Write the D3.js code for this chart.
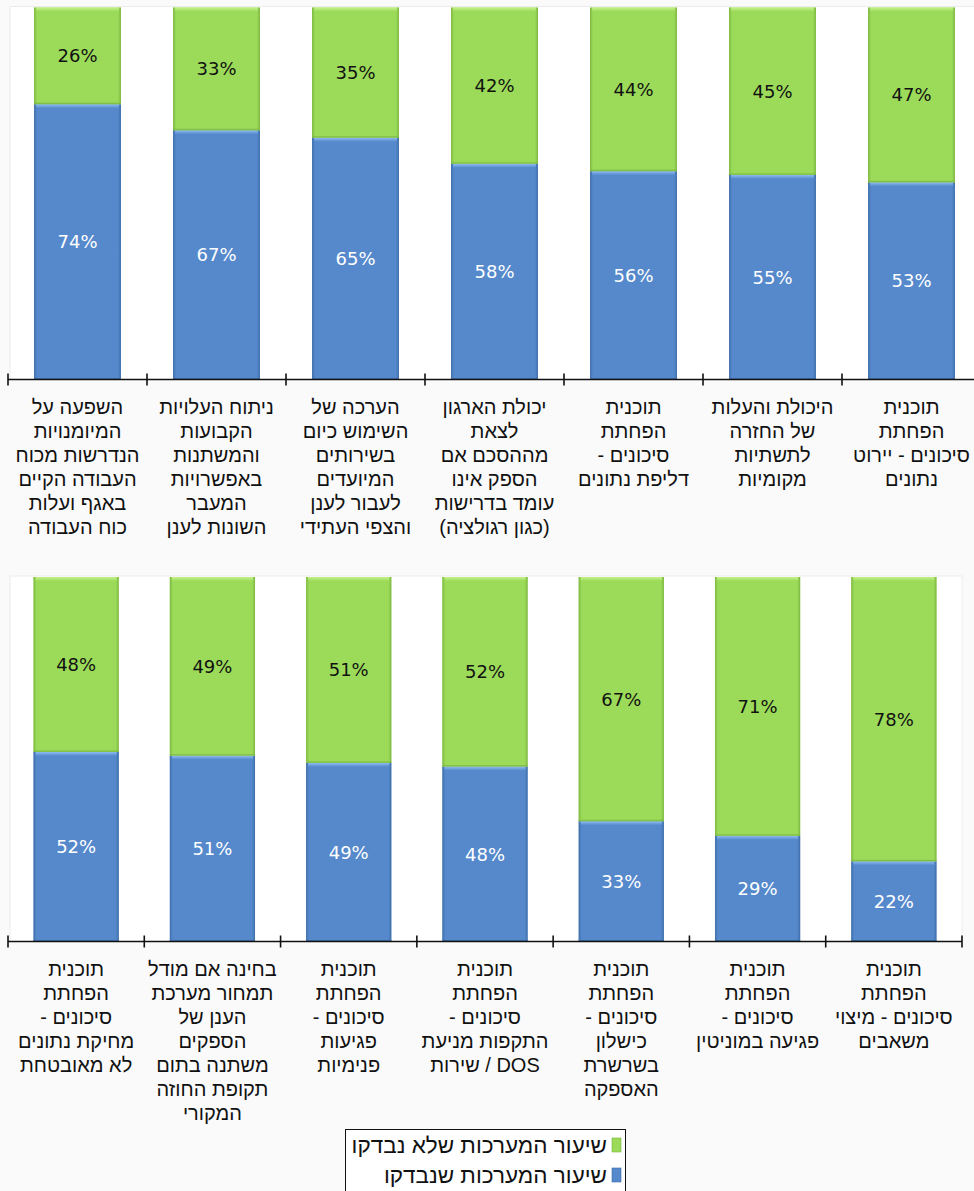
<!DOCTYPE html>
<html><head><meta charset="utf-8">
<script src="https://cdn.jsdelivr.net/npm/d3@7"></script>
<style>
html,body{margin:0;padding:0;background:#fafafa;}
svg{display:block;}
</style></head>
<body>
<svg id="chart" width="974" height="1191"></svg>
<script>
// ---- data (left to right as displayed) ----
const categoriesTop = [
  "השפעה על\nהמיומנויות\nהנדרשות מכוח\nהעבודה הקיים\nבאגף ועלות\nכוח העבודה",
  "ניתוח העלויות\nהקבועות\nוהמשתנות\nבאפשרויות\nהמעבר\nהשונות לענן",
  "הערכה של\nהשימוש כיום\nבשירותים\nהמיועדים\nלעבור לענן\nוהצפי העתידי",
  "יכולת הארגון\nלצאת\nמההסכם אם\nהספק אינו\nעומד בדרישות\n(כגון רגולציה)",
  "תוכנית\nהפחתת\nסיכונים -\nדליפת נתונים",
  "היכולת והעלות\nשל החזרה\nלתשתיות\nמקומיות",
  "תוכנית\nהפחתת\nסיכונים - יירוט\nנתונים"
];
const checkedTop    = [74, 67, 65, 58, 56, 55, 53];
const notCheckedTop = [26, 33, 35, 42, 44, 45, 47];

const categoriesBottom = [
  "תוכנית\nהפחתת\nסיכונים -\nמחיקת נתונים\nלא מאובטחת",
  "בחינה אם מודל\nתמחור מערכת\nהענן של\nהספקים\nמשתנה בתום\nתקופת החוזה\nהמקורי",
  "תוכנית\nהפחתת\nסיכונים -\nפגיעות\nפנימיות",
  "תוכנית\nהפחתת\nסיכונים -\nהתקפות מניעת\nשירות / DOS",
  "תוכנית\nהפחתת\nסיכונים -\nכישלון\nבשרשרת\nהאספקה",
  "תוכנית\nהפחתת\nסיכונים -\nפגיעה במוניטין",
  "תוכנית\nהפחתת\nסיכונים - מיצוי\nמשאבים"
];
const checkedBottom    = [52, 51, 49, 48, 33, 29, 22];
const notCheckedBottom = [48, 49, 51, 52, 67, 71, 78];

const seriesNames = ["שיעור המערכות שלא נבדקו", "שיעור המערכות שנבדקו"];

// ---- styles ----
const GREEN = "#9cdb59", GREEN_HI = "#c6f28e", GREEN_DK = "#79b43f";
const BLUE = "#5589cc", BLUE_HI = "#8fbdf0", BLUE_DK = "#3d6ca6";

const svg = d3.select("#chart");
const defs = svg.append("defs");
function edgeGrad(id, dk) {
  const g = defs.append("linearGradient").attr("id", id).attr("x1", 0).attr("x2", 1).attr("y1", 0).attr("y2", 0);
  g.append("stop").attr("offset", "0").attr("stop-color", dk).attr("stop-opacity", 0.9);
  g.append("stop").attr("offset", "0.035").attr("stop-color", dk).attr("stop-opacity", 0);
  g.append("stop").attr("offset", "0.965").attr("stop-color", dk).attr("stop-opacity", 0);
  g.append("stop").attr("offset", "1").attr("stop-color", dk).attr("stop-opacity", 0.9);
}
edgeGrad("edgeG", GREEN_DK);
edgeGrad("edgeB", BLUE_DK);
function topGrad(id, hi, base) {
  const g = defs.append("linearGradient").attr("id", id).attr("x1", 0).attr("x2", 0).attr("y1", 0).attr("y2", 1);
  g.append("stop").attr("offset", "0").attr("stop-color", hi);
  g.append("stop").attr("offset", "1").attr("stop-color", base);
}
topGrad("topG", GREEN_HI, GREEN);
topGrad("topB", BLUE_HI, BLUE);

// lines mixing Latin text are shown left-to-right embedded (as in the original)
function bidiLine(s) { return /[A-Za-z]/.test(s) ? "\u202A" + s + "\u202C" : s; }

function drawChart(cfg) {
  const { cats, checked, notChecked, x0, x1, yTop, yBase, plotRight } = cfg;
  const g = svg.append("g");
  g.append("rect").attr("x", 10).attr("y", yTop - 1).attr("width", plotRight - 10).attr("height", yBase - yTop + 1)
    .attr("fill", "#ffffff").attr("stroke", "#ececec").attr("stroke-width", 1);

  const x = d3.scaleBand().domain(d3.range(cats.length)).range([x0, x1]).paddingInner(0.375).paddingOuter(0.1875);
  const y = d3.scaleLinear().domain([0, 100]).range([yBase, yTop]);
  const bw = x.bandwidth();

  const segs = [];
  cats.forEach((c, i) => {
    segs.push({ i, y0: 0, y1: checked[i], v: checked[i], kind: "B" });
    segs.push({ i, y0: checked[i], y1: checked[i] + notChecked[i], v: notChecked[i], kind: "G" });
  });

  const sg = g.selectAll("g.seg").data(segs).join("g").attr("class", "seg");
  sg.append("rect")
    .attr("x", d => x(d.i)).attr("width", bw)
    .attr("y", d => y(d.y1)).attr("height", d => y(d.y0) - y(d.y1))
    .attr("fill", d => d.kind === "G" ? GREEN : BLUE);
  sg.append("rect")
    .attr("x", d => x(d.i)).attr("width", bw)
    .attr("y", d => y(d.y1)).attr("height", d => y(d.y0) - y(d.y1))
    .attr("fill", d => d.kind === "G" ? "url(#edgeG)" : "url(#edgeB)");
  sg.append("rect")
    .attr("x", d => x(d.i) + 2).attr("width", bw - 4)
    .attr("y", d => y(d.y1)).attr("height", 4)
    .attr("fill", d => d.kind === "G" ? "url(#topG)" : "url(#topB)");
  sg.append("rect")
    .attr("x", d => x(d.i)).attr("width", bw)
    .attr("y", d => y(d.y0) - 1.5).attr("height", 1.5)
    .attr("fill", d => d.kind === "G" ? GREEN_DK : BLUE_DK).attr("opacity", 0.7);
  sg.append("text")
    .attr("x", d => x(d.i) + bw / 2)
    .attr("y", d => (y(d.y0) + y(d.y1)) / 2)
    .attr("dy", "0.36em")
    .attr("text-anchor", "middle")
    .attr("font-family", "DejaVu Sans, Verdana, sans-serif")
    .attr("font-size", 18)
    .attr("fill", d => d.kind === "G" ? "#111" : "#ffffff")
    .text(d => d.v + "%");

  // axis
  const step = x.step();
  const bx = d3.scaleLinear().domain([0, cats.length]).range([x0, x0 + step * cats.length]);
  const ax = g.append("g").attr("transform", `translate(0,${yBase})`);
  ax.append("line").attr("x1", x0).attr("x2", x0 + step * cats.length).attr("stroke", "#111").attr("stroke-width", 1.6);
  ax.selectAll("line.tick").data(d3.range(cats.length + 1)).join("line").attr("class", "tick")
    .attr("x1", d => bx(d)).attr("x2", d => bx(d)).attr("y1", -6).attr("y2", 6)
    .attr("stroke", "#111").attr("stroke-width", 1.6);

  // category labels
  const lab = g.selectAll("text.cat").data(cats).join("text").attr("class", "cat")
    .attr("text-anchor", "middle").attr("direction", "rtl")
    .attr("font-family", "Liberation Sans, Arial, sans-serif").attr("font-size", 20).attr("fill", "#111")
    .attr("transform", (d, i) => `translate(${x(i) + bw / 2},${yBase + 34})`);
  lab.selectAll("tspan").data(d => d.split("\n")).join("tspan")
    .attr("x", 0).attr("y", (d, j) => j * 24).text(d => bidiLine(d));
}

drawChart({ cats: categoriesTop, checked: checkedTop, notChecked: notCheckedTop,
  x0: 8, x1: 981, yTop: 7.5, yBase: 379.5, plotRight: 990 });
drawChart({ cats: categoriesBottom, checked: checkedBottom, notChecked: notCheckedBottom,
  x0: 8, x1: 962, yTop: 577, yBase: 941.5, plotRight: 962 });

// legend
const lg = svg.append("g");
lg.append("rect").attr("x", 345.5).attr("y", 1129.5).attr("width", 280).attr("height", 80)
  .attr("fill", "#ffffff").attr("stroke", "#111").attr("stroke-width", 1);
const legendColors = [[GREEN, GREEN_DK], [BLUE, BLUE_DK]];
seriesNames.forEach((name, i) => {
  const cy = 1145 + i * 30;
  lg.append("rect").attr("x", 612).attr("y", cy - 7).attr("width", 9).attr("height", 14)
    .attr("fill", legendColors[i][0]).attr("stroke", legendColors[i][1]).attr("stroke-width", 0.6);
  lg.append("text").attr("x", 607).attr("y", cy).attr("dy", "0.35em")
    .attr("text-anchor", "start").attr("direction", "rtl")
    .attr("font-family", "Liberation Sans, Arial, sans-serif").attr("font-size", 22.5).attr("fill", "#111")
    .text(name);
});
</script>
</body></html>
